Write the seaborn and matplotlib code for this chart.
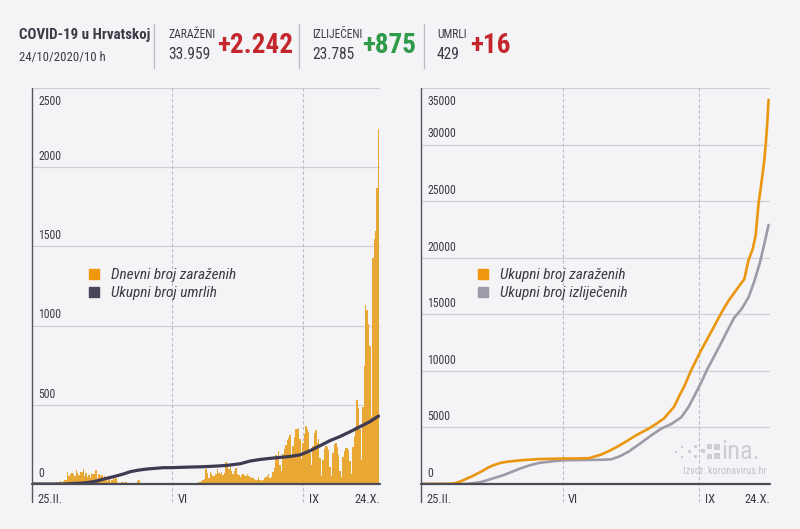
import numpy as np
import pandas as pd
import matplotlib
matplotlib.use("Agg")
import matplotlib.pyplot as plt
import seaborn as sns
from matplotlib import font_manager as fm
from matplotlib.lines import Line2D
from matplotlib.patches import Rectangle

# ---------------- data ----------------
# daily new cases, one value per day from 25.II. to 24.X.2020
daily_feb = [1, 2, 0, 2, 0]
daily_mar = [1, 0, 0, 0, 1, 2, 0, 1, 2, 2, 5, 13, 6, 11, 18, 9, 16, 24, 23, 78,
             48, 61, 67, 60, 53, 91, 71, 56, 77, 77, 96]
daily_apr = [48, 68, 47, 56, 40, 60, 61, 64, 88, 39, 66, 50, 54, 37, 50, 23, 18, 39, 10, 27,
             42, 31, 35, 14, 9, 8, 15, 14, 9, 11]
daily_may = [5, 7, 3, 2, 3, 6, 5, 16, 25, 8, 3, 3, 1, 2, 0, 1, 1, 0, 0, 1,
             0, 2, 1, 0, 0, 1, 0, 0, 0, 1, 0]
daily_jun = [0, 1, 0, 0, 0, 0, 0, 1, 0, 0, 0, 0, 0, 2, 2, 0, 1, 3, 8, 11,
             13, 20, 27, 32, 96, 67, 41, 74, 64, 52]
daily_jul = [52, 63, 95, 72, 60, 78, 55, 67, 140, 109, 97, 114, 79, 62, 79, 102, 66, 59, 47, 56,
             65, 55, 48, 63, 49, 38, 45, 36, 33, 28, 24]
daily_aug = [42, 24, 21, 27, 35, 47, 52, 62, 40, 42, 77, 98, 180, 176, 206, 123, 79, 187, 223, 247,
             275, 293, 308, 169, 238, 294, 350, 345, 356, 286, 155]
daily_sep = [259, 315, 369, 347, 331, 193, 117, 242, 323, 340, 261, 285, 165, 49, 152, 221, 240, 232, 213, 108,
             52, 196, 250, 256, 231, 185, 85, 43, 171, 210]
daily_oct = [225, 228, 214, 147, 66, 236, 306, 363, 530, 480, 348, 150, 486, 748, 1131, 1100, 1007, 869, 420, 1424,
             1546, 1600, 1868, 2242]
daily_cases = daily_feb + daily_mar + daily_apr + daily_may + daily_jun + daily_jul + daily_aug + daily_sep + daily_oct

# cumulative deaths (day index since 25.II.)
death_days = [0, 22, 28, 35, 40, 45, 50, 57, 63, 68, 74, 80, 91, 96, 110, 119, 130, 136, 145, 152,
              159, 166, 173, 180, 187, 194, 201, 208, 215, 222, 229, 236, 239, 242]
deaths_total = [0, 0, 3, 6, 12, 20, 33, 48, 63, 78, 88, 95, 103, 103, 107, 109, 114, 118, 128, 145,
                155, 162, 168, 174, 184, 210, 242, 274, 300, 330, 362, 394, 412, 429]

# cumulative confirmed
conf_days = [0, 20, 23, 26, 30, 35, 41, 46, 50, 55, 60, 69, 81, 96, 110, 117, 120, 125, 131, 137,
             143, 148, 153, 159, 164, 169, 173, 176, 180, 183, 188, 195, 202, 209, 214, 218, 222, 225,
             228, 231, 233, 235, 237, 239, 240, 241, 242]
confirmed_total = [0, 20, 80, 200, 420, 700, 1090, 1450, 1680, 1880, 1980, 2100, 2200, 2245, 2260, 2290,
                   2420, 2600, 2950, 3350, 3800, 4200, 4550, 4950, 5370, 5810, 6400, 6840, 7900, 8610,
                   10090, 11860, 13480, 15130, 16200, 16900, 17600, 18100, 19800, 20800, 22000, 24800,
                   26600, 28600, 30000, 31700, 33959]

# cumulative recovered
rec_days = [0, 30, 34, 40, 45, 50, 57, 63, 69, 75, 81, 87, 92, 99, 110, 125, 132, 138, 144, 153,
            160, 167, 174, 181, 186, 190, 195, 199, 204, 209, 213, 218, 223, 228, 232, 236, 239, 242]
recovered_total = [0, 0, 40, 150, 320, 520, 800, 1100, 1400, 1650, 1850, 1950, 2020, 2100, 2120, 2140,
                   2180, 2450, 2850, 3650, 4300, 4900, 5300, 5900, 6800, 7750, 9000, 10100, 11300, 12500,
                   13500, 14700, 15450, 16500, 17900, 19600, 21200, 22900]

x_tick_labels = ["25.II.", "VI", "IX", "24.X."]
left_y_ticks = [0, 500, 1000, 1500, 2000, 2500]
right_y_ticks = [0, 5000, 10000, 15000, 20000, 25000, 30000, 35000]

header_title = "COVID-19 u Hrvatskoj"
header_date = "24/10/2020/10 h"
header_labels = ["ZARAŽENI", "IZLIJEČENI", "UMRLI"]
header_totals = ["33.959", "23.785", "429"]
header_changes = ["+2.242", "+875", "+16"]

# ---------------- style ----------------
BG = "#f4f4f7"
TXT = "#3b3b47"
BAR = "#e9a834"
ORANGE = "#eb960f"
GRAY = "#9d9ba8"
DARK = "#3e3a52"
RED = "#c4262e"
GREEN = "#2f9a48"
GRID = "#cfcfd5"

sns.set_theme(style="white")
avail = {f.name for f in fm.fontManager.ttflist}


def pick(*names):
    for n in names:
        if n in avail:
            return n
    return "DejaVu Sans"


FAM = pick("Liberation Sans Narrow", "Roboto Condensed", "Open Sans Condensed", "Noto Sans", "Open Sans")
plt.rcParams["font.family"] = [FAM, "DejaVu Sans"]
plt.rcParams["text.color"] = TXT

fig = plt.figure(figsize=(8, 5.29), dpi=100, facecolor=BG)


def fx(px):
    return px / 800.0


def fy(py):
    return 1 - py / 529.0


# ---------------- header ----------------
fig.text(fx(19), fy(35), header_title, fontsize=10.8, fontweight="bold", color=TXT, va="center", ha="left")
fig.text(fx(19), fy(57), header_date, fontsize=9.2, color=TXT, va="center", ha="left")
for sx in [154, 299, 424]:
    fig.add_artist(Line2D([fx(sx), fx(sx)], [fy(24), fy(68)], color="#b9b9c1", lw=0.9))

lab_x = [168, 312, 437]
chg_x = [217, 362, 470]
chg_col = [RED, GREEN, RED]
for lx, cx, lab, tot, chg, col in zip(lab_x, chg_x, header_labels, header_totals, header_changes, chg_col):
    fig.text(fx(lx), fy(35), lab, fontsize=8.3, color=TXT, va="center", ha="left")
    fig.text(fx(lx), fy(54.5), tot, fontsize=11.2, color=TXT, va="center", ha="left")
    fig.text(fx(cx), fy(45.5), chg, fontsize=19.5, fontweight="bold", color=col, va="center", ha="left")

# ---------------- axes ----------------
axL = fig.add_axes([fx(32), fy(484), fx(380) - fx(32), fy(88) - fy(484)])
axR = fig.add_axes([fx(421), fy(484), fx(770) - fx(421), fy(88) - fy(484)])

days = np.arange(len(daily_cases))
df_daily = pd.DataFrame({"day": days, "cases": daily_cases})
df_deaths = pd.DataFrame({"day": death_days, "deaths": deaths_total})
df_conf = pd.DataFrame({"day": conf_days, "total": confirmed_total})
df_rec = pd.DataFrame({"day": rec_days, "total": recovered_total})

sns.barplot(data=df_daily, x="day", y="cases", native_scale=True, color=BAR, saturation=1,
            width=1.0, linewidth=0, ax=axL, zorder=3)
sns.lineplot(data=df_deaths, x="day", y="deaths", color=DARK, lw=2.3, ax=axL, zorder=4)

sns.lineplot(data=df_rec, x="day", y="total", color=GRAY, lw=1.9, ax=axR, zorder=4)
sns.lineplot(data=df_conf, x="day", y="total", color=ORANGE, lw=1.9, ax=axR, zorder=5)

last = len(daily_cases) - 1
month_marks = {axL: [0, 97, 189, last], axR: [0, 98, 193.5, last]}

for ax, yt, ytop in [(axL, left_y_ticks, 2500), (axR, right_y_ticks, 35000)]:
    ax.set_facecolor(BG)
    ax.set_xlim(-1, last + 1)
    ax.set_ylim(0, ytop)
    for s in ax.spines.values():
        s.set_visible(False)
    ax.set_yticks(yt)
    ax.set_xticks([])
    ax.tick_params(axis="y", length=0, labelleft=False)
    ax.yaxis.grid(True, color=GRID, lw=0.9, zorder=0)
    ax.set_xlabel("")
    ax.set_ylabel("")
    # y labels inside the plot, above their grid line
    for v in yt:
        top = v == ytop
        ax.annotate(str(v), xy=(0, v), xycoords=("axes fraction", "data"),
                    xytext=(4.5, -5 if top else 3), textcoords="offset points",
                    ha="left", va="top" if top else "bottom", fontsize=8.5, color=TXT)
    # left axis line (extends a little below the baseline)
    ax.plot([0, 0], [-0.045, 1], transform=ax.transAxes, color="#55555f", lw=1.0,
            clip_on=False, zorder=6)
    # baseline
    ax.axhline(0, color="#4b4b56", lw=1.6, clip_on=False, zorder=6)
    marks = month_marks[ax]
    for m in marks[1:3]:
        ax.plot([m, m], [-0.045, 1], transform=ax.get_xaxis_transform(), color="#bcbcc4",
                lw=0.8, ls=(0, (3, 2)), clip_on=False, zorder=1)
    # x labels
    for i, (m, lab) in enumerate(zip(marks, x_tick_labels)):
        if i == 0:
            ax.annotate(lab, xy=(0, 0), xycoords="axes fraction", xytext=(4, -11.5),
                        textcoords="offset points", ha="left", va="center", fontsize=9, color=TXT)
        elif i == 3:
            ax.annotate(lab, xy=(1, 0), xycoords="axes fraction", xytext=(0, -11.5),
                        textcoords="offset points", ha="right", va="center", fontsize=9, color=TXT)
        else:
            ax.annotate(lab, xy=(m, 0), xycoords=("data", "axes fraction"), xytext=(4, -11.5),
                        textcoords="offset points", ha="left", va="center", fontsize=9, color=TXT)

# legends
leg_font = {"style": "italic", "size": 11}
hL = [Line2D([], [], marker="s", ls="none", ms=7.5, color="#f0960c"),
      Line2D([], [], marker="s", ls="none", ms=7.5, color="#4a4558")]
axL.legend(hL, ["Dnevni broj zaraženih", "Ukupni broj umrlih"], loc="center left",
           bbox_to_anchor=(0.16, 0.505), frameon=False, prop=leg_font, handlelength=0.8,
           handletextpad=0.7, labelspacing=0.25, labelcolor=TXT, borderaxespad=0, borderpad=0)
hR = [Line2D([], [], marker="s", ls="none", ms=7.5, color="#f0960c"),
      Line2D([], [], marker="s", ls="none", ms=7.5, color=GRAY)]
axR.legend(hR, ["Ukupni broj zaraženih", "Ukupni broj izliječenih"], loc="center left",
           bbox_to_anchor=(0.16, 0.505), frameon=False, prop=leg_font, handlelength=0.8,
           handletextpad=0.7, labelspacing=0.25, labelcolor=TXT, borderaxespad=0, borderpad=0)

# HINA logo and source
LOGO = "#cdcdd4"
for (px, py, s) in [(675, 451, 2), (681, 446, 2), (681, 456, 2), (688, 450, 3), (694, 445, 3),
                    (694, 455, 3), (701, 449, 4), (707, 444, 5), (707, 454, 5), (714, 444, 6), (714, 453, 6)]:
    fig.add_artist(Rectangle((fx(px), fy(py + s)), fx(s), fy(0) - fy(s), color=LOGO, lw=0))
fig.text(fx(721), fy(452), "ina.", fontsize=19, color=LOGO, va="center", ha="left")
fig.text(fx(767), fy(471), "Izvor: koronavirus.hr", fontsize=7.5, color="#c2c2ca", va="center", ha="right")

fig.savefig("out.png", dpi=100, facecolor=BG)
